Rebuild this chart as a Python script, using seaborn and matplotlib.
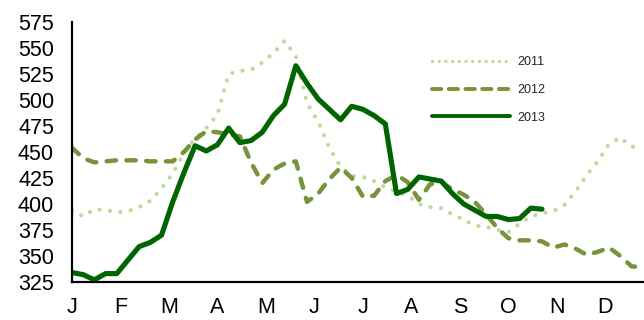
import numpy as np
import pandas as pd
import matplotlib
matplotlib.use("Agg")
import matplotlib.pyplot as plt
import seaborn as sns

months = ["J", "F", "M", "A", "M", "J", "J", "A", "S", "O", "N", "D"]
yticks = [325, 350, 375, 400, 425, 450, 475, 500, 525, 550, 575]
years = ["2011", "2012", "2013"]

y2011 = [394, 388, 395, 394, 392, 393, 397, 403, 415, 429, 449, 463, 473, 486, 525,
         528, 529, 536, 545, 557, 542, 497, 479, 454, 436, 427, 426, 422, 416, 412,
         408, 400, 397, 396, 390, 385, 379, 378, 375, 373, 381, 388, 391, 393, 399,
         412, 428, 441, 458, 464, 455, 456]
y2012 = [454, 444, 440, 441, 442, 442, 442, 441, 441, 441, 450, 462, 470, 469, 467,
         465, 440, 420, 433, 439, 441, 402, 410, 424, 435, 425, 407, 408, 422, 428,
         421, 404, 419, 421, 414, 409, 402, 390, 377, 367, 365, 365, 364, 358, 361,
         357, 351, 354, 358, 350, 340, 339]
y2013 = [334, 332, 327, 333, 333, 346, 359, 363, 370, 402, 430, 456, 451, 457, 473,
         459, 461, 469, 485, 496, 533, 516, 501, 491, 481, 494, 491, 485, 477, 410,
         414, 426, 424, 422, 410, 400, 394, 388, 388, 385, 386, 396, 395]

series = {"2011": y2011, "2012": y2012, "2013": y2013}
rows = []
for yr, vals in series.items():
    for i, v in enumerate(vals):
        rows.append({"week": i * 12 / 52, "value": v, "year": yr})
df = pd.DataFrame(rows)

sns.set_theme(style="white")
plt.rcParams["font.family"] = ["Liberation Sans", "DejaVu Sans"]

colors = {"2011": "#c3d69b", "2012": "#77933c", "2013": "#006400"}
dashes = {"2011": (0.01, 2.5), "2012": (2.1, 2.35), "2013": ""}
widths = {"2011": 3.0, "2012": 3.2, "2013": 3.7}

fig = plt.figure(figsize=(6.44, 3.2), dpi=100)
ax = fig.add_axes([0.1118, 0.119, 0.8862, 0.812])

sns.lineplot(data=df, x="week", y="value", hue="year", style="year",
             hue_order=years, style_order=years, palette=colors, dashes=dashes,
             estimator=None, sort=True, legend=False, ax=ax)

for line, yr in zip(ax.lines, years):
    line.set_linewidth(widths[yr])
    line.set_dash_capstyle("round")
    line.set_solid_capstyle("round")
    line.set_solid_joinstyle("round")
    line.set_dash_joinstyle("round")

ax.set_xlim(0, 51 * 12 / 52)
ax.set_ylim(325, 575)
ax.set_xticks(range(12))
ax.set_xticklabels(months)
ax.set_yticks(yticks)
ax.set_yticklabels([str(t) for t in yticks])
ax.set_xlabel("")
ax.set_ylabel("")

for s in ["top", "right"]:
    ax.spines[s].set_visible(False)
for s in ["left", "bottom"]:
    ax.spines[s].set_color("black")
    ax.spines[s].set_linewidth(1.6)

ax.tick_params(axis="both", which="major", direction="out", length=5, width=1.6,
               color="black", labelsize=15.5, labelcolor="black")
ax.tick_params(axis="y", pad=8)
ax.tick_params(axis="x", pad=6)

leg = ax.legend(handles=ax.lines, labels=years, loc="center left",
                bbox_to_anchor=(432 / 644, 1 - 90 / 320), bbox_transform=fig.transFigure,
                frameon=False, fontsize=9, handlelength=6.2, handletextpad=0.6,
                labelspacing=1.25, borderpad=0, borderaxespad=0)
leg_lines = leg.get_lines()
leg_lines[0].set_linewidth(2.4)
leg_lines[0].set_dashes((0.01, 2.0))
leg_lines[1].set_linewidth(2.8)
leg_lines[1].set_dashes((2.4, 1.9))
leg_lines[2].set_linewidth(2.8)

fig.savefig("out.png", dpi=100)
